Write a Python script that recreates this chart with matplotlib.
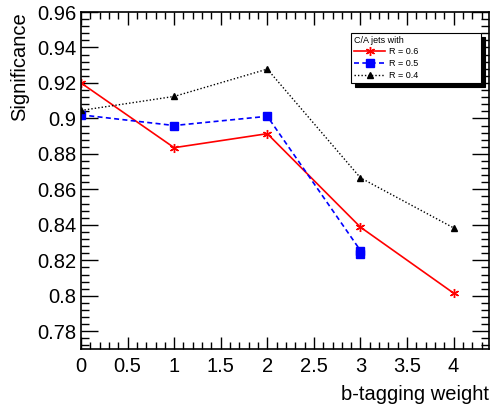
import numpy as np
import matplotlib.pyplot as plt
from matplotlib.ticker import MultipleLocator

plt.rcParams['font.family'] = ['Liberation Sans', 'DejaVu Sans']

# significance vs b-tagging weight for C/A jets
x_r06 = [0, 1, 2, 3, 4]
sig_r06 = [0.920, 0.8835, 0.8914, 0.8387, 0.8015]

x_r05 = [0, 1, 2, 3, 3]
sig_r05 = [0.902, 0.8960, 0.9012, 0.8255, 0.8235]

x_r04 = [0, 1, 2, 3, 4]
sig_r04 = [0.9045, 0.9124, 0.9278, 0.8665, 0.8383]

fig = plt.figure(figsize=(4.92, 4.09), dpi=100)
ax = fig.add_axes([81/492, 1 - 349/409, (489-81)/492, (349-12)/409])

ax.plot(x_r06, sig_r06, color='red', lw=1.2, marker=(6, 2, 0), ms=6.5, mew=1.0,
        label='R = 0.6')
ax.plot(x_r05, sig_r05, color='blue', lw=1.2, ls=(0, (3, 2)), marker='s', ms=6,
        label='R = 0.5')
ax.plot(x_r04, sig_r04, color='black', lw=1.0, ls=(0, (1, 1.5)), marker='^', ms=5,
        label='R = 0.4')

ax.set_xlim(0, 4.38)
ax.set_ylim(0.77, 0.96)
ax.xaxis.set_major_locator(MultipleLocator(0.5))
ax.xaxis.set_minor_locator(MultipleLocator(0.1))
ax.yaxis.set_major_locator(MultipleLocator(0.02))
ax.yaxis.set_minor_locator(MultipleLocator(0.004))
ax.tick_params(which='both', direction='in', top=True, right=True, labelsize=14.5, width=1)
ax.tick_params(which='major', length=12)
ax.tick_params(which='minor', length=6)
ax.tick_params(axis='x', which='major', length=9)
ax.tick_params(axis='x', which='minor', length=5)
ax.tick_params(axis='x', pad=6)

def fmt(v, pos):
    s = '%g' % round(v, 4)
    return s
ax.xaxis.set_major_formatter(plt.FuncFormatter(fmt))
ax.yaxis.set_major_formatter(plt.FuncFormatter(fmt))

for sp in ax.spines.values():
    sp.set_linewidth(1.2)

fig.text(20/492, 1 - 12/409, 'Significance', rotation=90, ha='center', va='top', fontsize=14.5)
fig.text(489/492, 1 - 395/409, 'b-tagging weight', ha='right', va='center', fontsize=14.5)

leg = ax.legend(loc='upper left', bbox_to_anchor=(351/492, 1 - 80/409, 130/492, 47/409),
                bbox_transform=fig.transFigure, mode='expand',
                title='C/A jets with', fontsize=6.5, title_fontsize=6.5, alignment='left',
                fancybox=False, edgecolor='black', framealpha=1,
                shadow={'color': 'black', 'ox': 3, 'oy': -3, 'alpha': 1},
                borderpad=0.3, labelspacing=0.3, handlelength=3.5, handletextpad=0.4,
                borderaxespad=0)
leg.get_frame().set_linewidth(0.8)

fig.savefig('out.png', dpi=100)
